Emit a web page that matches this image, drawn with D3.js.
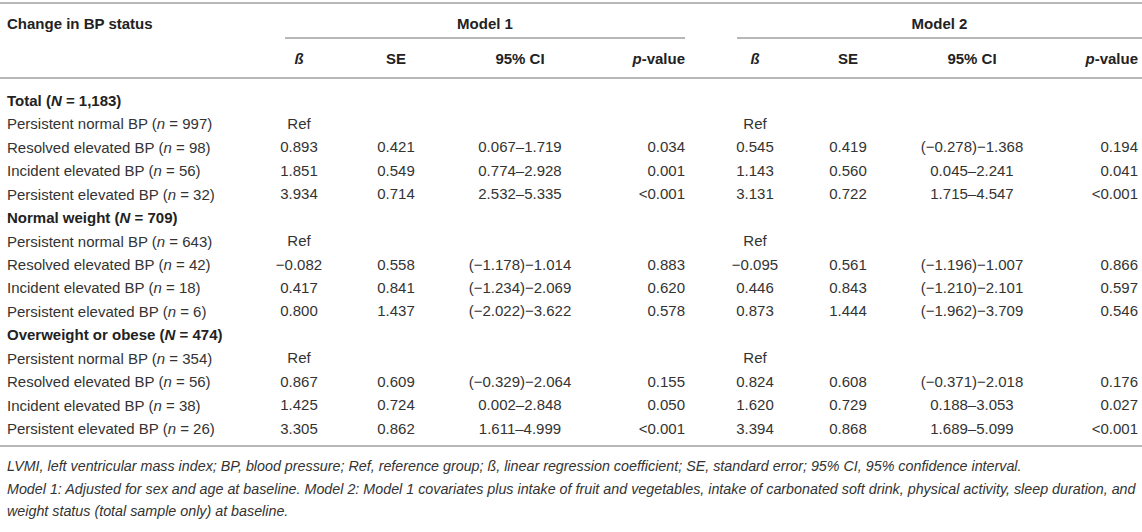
<!DOCTYPE html>
<html>
<head>
<meta charset="utf-8">
<script src="https://cdn.jsdelivr.net/npm/d3@7"></script>
<style>
  html, body { margin: 0; padding: 0; background: #fff; }
  svg text { font-family: "Liberation Sans", Arial, Helvetica, sans-serif; }
</style>
</head>
<body>
<svg id="chart" width="1142" height="532"></svg>
<script>
// ---- data ----
const groups = ["Total", "Normal weight", "Overweight or obese"];
const groupN = ["1,183", "709", "474"];
const statusLabels = ["Persistent normal BP", "Resolved elevated BP", "Incident elevated BP", "Persistent elevated BP"];
const statusN = [[997, 98, 56, 32], [643, 42, 18, 6], [354, 56, 38, 26]];
const modelNames = ["Model 1", "Model 2"];
const statHeaders = ["ß", "SE", "95% CI", "p-value"];

const m1Beta = [["Ref", "0.893", "1.851", "3.934"], ["Ref", "−0.082", "0.417", "0.800"], ["Ref", "0.867", "1.425", "3.305"]];
const m1SE   = [["", "0.421", "0.549", "0.714"], ["", "0.558", "0.841", "1.437"], ["", "0.609", "0.724", "0.862"]];
const m1CI   = [["", "0.067–1.719", "0.774–2.928", "2.532–5.335"], ["", "(−1.178)−1.014", "(−1.234)−2.069", "(−2.022)−3.622"], ["", "(−0.329)−2.064", "0.002–2.848", "1.611–4.999"]];
const m1P    = [["", "0.034", "0.001", "<0.001"], ["", "0.883", "0.620", "0.578"], ["", "0.155", "0.050", "<0.001"]];
const m2Beta = [["Ref", "0.545", "1.143", "3.131"], ["Ref", "−0.095", "0.446", "0.873"], ["Ref", "0.824", "1.620", "3.394"]];
const m2SE   = [["", "0.419", "0.560", "0.722"], ["", "0.561", "0.843", "1.444"], ["", "0.608", "0.729", "0.868"]];
const m2CI   = [["", "(−0.278)−1.368", "0.045–2.241", "1.715–4.547"], ["", "(−1.196)−1.007", "(−1.210)−2.101", "(−1.962)−3.709"], ["", "(−0.371)−2.018", "0.188–3.053", "1.689–5.099"]];
const m2P    = [["", "0.194", "0.041", "<0.001"], ["", "0.866", "0.597", "0.546"], ["", "0.176", "0.027", "<0.001"]];

const footnotes = [
  "LVMI, left ventricular mass index; BP, blood pressure; Ref, reference group; ß, linear regression coefficient; SE, standard error; 95% CI, 95% confidence interval.",
  "Model 1: Adjusted for sex and age at baseline. Model 2: Model 1 covariates plus intake of fruit and vegetables, intake of carbonated soft drink, physical activity, sleep duration, and",
  "weight status (total sample only) at baseline."
];

// ---- layout ----
const svg = d3.select("#chart");
const W = 1142;
const textCol = "#333";
const headCol = "#222";
const ruleCol = "#b8b8b8";
const fs = 15;

const rows = [];
groups.forEach((g, gi) => {
  rows.push({type: "group", gi});
  statusLabels.forEach((s, si) => rows.push({type: "row", gi, si}));
});

const y = d3.scalePoint().domain(d3.range(rows.length)).range([100, 428]);

// model blocks (span of the rule under each model header)
const blocks = [[285, 685], [737, W]];
// column x positions per model: beta, SE, CI (centres) and p (right edge)
const colX = [[299, 396, 520, 685], [755, 848, 972, 1138]];
const colAnchor = ["middle", "middle", "middle", "end"];
const modelData = [[m1Beta, m1SE, m1CI, m1P], [m2Beta, m2SE, m2CI, m2P]];

const cols = [];
modelData.forEach((md, mi) => {
  md.forEach((d, ci) => {
    cols.push({data: d, anchor: colAnchor[ci], x: colX[mi][ci], head: statHeaders[ci]});
  });
});

function rule(x1, x2, yy) {
  svg.append("line").attr("x1", x1).attr("x2", x2).attr("y1", yy).attr("y2", yy)
    .attr("stroke", ruleCol).attr("stroke-width", 2);
}

rule(0, W, 3);
rule(0, W, 78);
rule(0, W, 446);
blocks.forEach(b => rule(b[0], b[1], 38));

// header row 1
svg.append("text").attr("x", 7).attr("y", 23).attr("dominant-baseline", "central")
  .attr("font-size", fs).attr("font-weight", "bold").attr("fill", headCol).text("Change in BP status");
modelNames.forEach((m, i) => {
  svg.append("text").attr("x", (blocks[i][0] + blocks[i][1]) / 2).attr("y", 23).attr("dominant-baseline", "central")
    .attr("text-anchor", "middle").attr("font-size", fs).attr("font-weight", "bold").attr("fill", headCol).text(m);
});

// header row 2
cols.forEach(c => {
  const h = c.head;
  const t = svg.append("text").attr("x", c.x).attr("y", 58).attr("dominant-baseline", "central")
    .attr("text-anchor", c.anchor).attr("font-size", fs).attr("font-weight", "bold").attr("fill", headCol);
  if (h === "ß") {
    t.attr("font-style", "italic").text(h);
  } else if (h === "p-value") {
    t.append("tspan").attr("font-style", "italic").text("p");
    t.append("tspan").text("-value");
  } else {
    t.text(h);
  }
});

// body rows
rows.forEach((r, i) => {
  const yy = y(i);
  if (r.type === "group") {
    const t = svg.append("text").attr("x", 7).attr("y", yy).attr("dominant-baseline", "central")
      .attr("font-size", fs).attr("font-weight", "bold").attr("fill", headCol);
    t.append("tspan").text(groups[r.gi] + " (");
    t.append("tspan").attr("font-style", "italic").text("N");
    t.append("tspan").text(" = " + groupN[r.gi] + ")");
  } else {
    const t = svg.append("text").attr("x", 7).attr("y", yy).attr("dominant-baseline", "central")
      .attr("font-size", fs).attr("fill", textCol);
    t.append("tspan").text(statusLabels[r.si] + " (");
    t.append("tspan").attr("font-style", "italic").text("n");
    t.append("tspan").text(" = " + statusN[r.gi][r.si] + ")");
    cols.forEach(c => {
      const v = c.data[r.gi][r.si];
      if (!v) return;
      svg.append("text").attr("x", c.x).attr("y", yy).attr("dominant-baseline", "central")
        .attr("text-anchor", c.anchor).attr("font-size", fs).attr("fill", textCol).text(v);
    });
  }
});

// footnotes
const fy = [466, 489, 511];
footnotes.forEach((f, i) => {
  svg.append("text").attr("x", 7).attr("y", fy[i]).attr("dominant-baseline", "central")
    .attr("font-size", 14.3).attr("font-style", "italic").attr("fill", textCol).text(f);
});
</script>
</body>
</html>
